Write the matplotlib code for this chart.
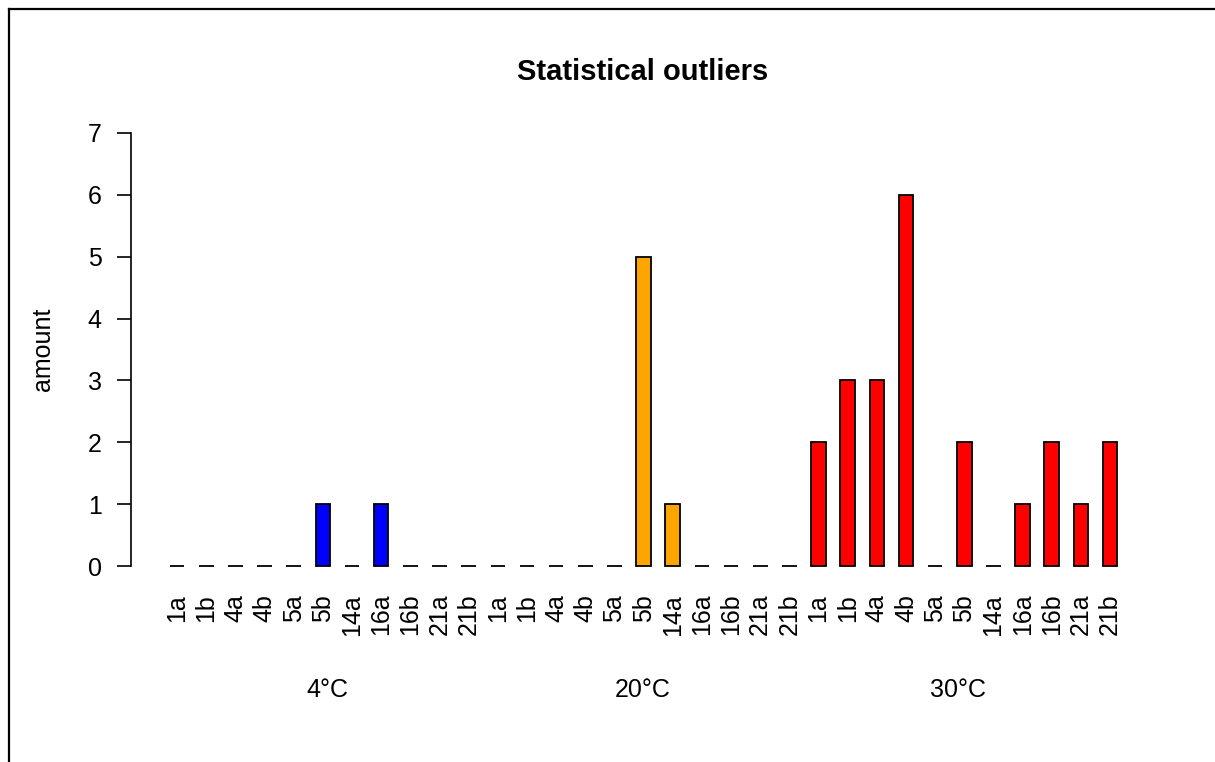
import matplotlib
matplotlib.use("Agg")
import matplotlib.pyplot as plt
from matplotlib.lines import Line2D

plt.rcParams['font.family'] = ['Liberation Sans', 'DejaVu Sans']

# Strain labels, repeated per temperature group
strains = ["1a", "1b", "4a", "4b", "5a", "5b", "14a", "16a", "16b", "21a", "21b"]
groups = ["4°C", "20°C", "30°C"]
group_colors = ["#0000FF", "#FFA500", "#FF0000"]

# Number of statistical outliers per strain and temperature
outliers_4C = [0, 0, 0, 0, 0, 1, 0, 1, 0, 0, 0]
outliers_20C = [0, 0, 0, 0, 0, 5, 1, 0, 0, 0, 0]
outliers_30C = [2, 3, 3, 6, 0, 2, 0, 1, 2, 1, 2]

yticks = [0, 1, 2, 3, 4, 5, 6, 7]

W, H = 1215, 762
fig = plt.figure(figsize=(W / 100, H / 100), dpi=100)

# plot region in pixels (left, right, top, bottom)
left_px, right_px, top_px, bottom_px = 131, 1155, 133, 566
ax = fig.add_axes([left_px / W, 1 - bottom_px / H,
                   (right_px - left_px) / W, (bottom_px - top_px) / H])

values = outliers_4C + outliers_20C + outliers_30C
labels = strains * len(groups)
colors = [c for c in group_colors for _ in strains]
positions = list(range(len(values)))

bars = ax.bar(positions, values, width=0.5, color=colors,
              edgecolor="black", linewidth=1.3)
for b in bars:
    b.set_clip_on(False)

ax.set_xlim(-1.58, 33.54)
ax.set_ylim(0, 7)

for s in ["top", "right", "bottom"]:
    ax.spines[s].set_visible(False)
ax.spines["left"].set_linewidth(1.2)
ax.spines["left"].set_bounds(0, 7)

ax.set_yticks(yticks)
ax.set_yticklabels([str(t) for t in yticks], fontsize=18)
ax.tick_params(axis="y", length=10, width=1.2, pad=11)

ax.set_xticks(positions)
ax.set_xticklabels(labels, rotation=90, fontsize=18)
ax.tick_params(axis="x", length=0, pad=20)

# temperature group labels under the strain labels
group_label_x = [327, 643, 958]
for gx, g in zip(group_label_x, groups):
    fig.text(gx / W, 1 - 690 / H, g, ha="center", va="center", fontsize=18)

fig.text(643 / W, 1 - 72 / H, "Statistical outliers", ha="center",
         va="center", fontsize=21, fontweight="bold")
fig.text(43 / W, 1 - 349 / H, "amount", ha="center", va="center",
         rotation=90, fontsize=18)

# frame around the figure (left and top edges)
fig.add_artist(Line2D([8.5 / W, 8.5 / W], [0, 1 - 8.5 / H],
                      transform=fig.transFigure, color="black", linewidth=1.6))
fig.add_artist(Line2D([8.5 / W, 1], [1 - 8.5 / H, 1 - 8.5 / H],
                      transform=fig.transFigure, color="black", linewidth=1.6))

fig.savefig("out.png", dpi=100, facecolor="white")
